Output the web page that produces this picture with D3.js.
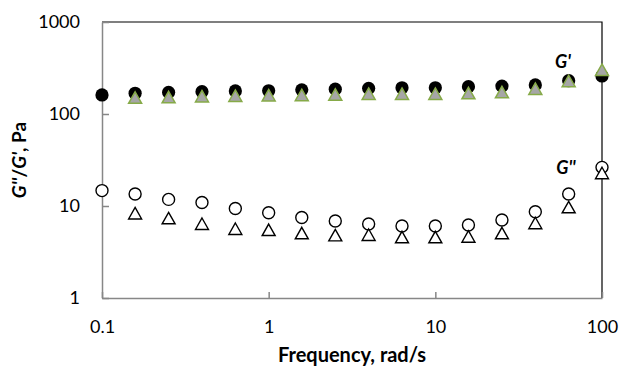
<!DOCTYPE html>
<html>
<head>
<meta charset="utf-8">
<script src="https://cdn.jsdelivr.net/npm/d3@7"></script>
<style>
  body { margin: 0; background: #fff; }
  text { font-family: Lato, "Open Sans", sans-serif; }
</style>
</head>
<body>
<div id="displaybox"></div>
<script>
// frequency sweep, rad/s (5 points per decade)
let freq = [0.1, 0.158, 0.251, 0.398, 0.631, 1, 1.58, 2.51, 3.98, 6.31, 10, 15.8, 25.1, 39.8, 63.1, 100];

// storage modulus G' (Pa)
let gPrimeA = [161, 168, 172, 175, 178, 179, 183, 186, 190, 193, 193, 198, 201, 207, 230, 259];
let gPrimeB = [null, 150, 152, 155, 157, 159, 160, 162, 165, 165, 165, 168, 172, 187, 227, 301];

// loss modulus G'' (Pa)
let gDoubleA = [14.7, 13.5, 11.8, 10.9, 9.4, 8.46, 7.5, 6.87, 6.37, 6.06, 6.06, 6.22, 7.04, 8.67, 13.5, 26.3];
let gDoubleB = [null, 8.3, 7.35, 6.37, 5.62, 5.48, 5.05, 4.8, 4.84, 4.57, 4.57, 4.64, 5.05, 6.49, 9.68, 22.7];

let xTicks = [0.1, 1, 10, 100];
let yTicks = [1, 10, 100, 1000];

let width = 620, height = 369;
let margin = {top: 22, right: 18, bottom: 71, left: 102};

let svg = d3.select("#displaybox")
    .append("svg")
        .attr("width", width)
        .attr("height", height);

let x = d3.scaleLog()
    .domain([0.1, 100])
    .range([margin.left, width - margin.right]);
let y = d3.scaleLog()
    .domain([1, 1000])
    .range([height - margin.bottom, margin.top]);

// minor ticks 2..9 in each decade
function minors(lo, hi) {
    let out = [];
    for (let d = lo; d < hi; d *= 10)
        for (let k = 2; k <= 9; k++) out.push(d * k);
    return out;
}

// black frame on top and right
svg.append("path")
    .attr("d", `M${x(0.1)},${y(1000)}H${x(100)}V${y(1)}`)
    .attr("fill", "none")
    .attr("stroke", "#000")
    .attr("stroke-width", 1.2);

let axisColor = "#878787";

// x axis
let gx = svg.append("g")
    .attr("transform", `translate(0, ${y(1)})`);
gx.call(d3.axisBottom(x).tickValues(minors(0.1, 100)).tickSizeInner(-5).tickSizeOuter(0).tickFormat(""));
gx.call(d3.axisBottom(x).tickValues(xTicks).tickSizeInner(-6).tickSizeOuter(0).tickPadding(22)
        .tickFormat(d => d3.format("~g")(d)));
gx.selectAll("path.domain, line").attr("stroke", axisColor).attr("stroke-width", 1.5);
gx.selectAll("text").attr("font-size", 18).attr("fill", "#000");

// y axis
let gy = svg.append("g")
    .attr("transform", `translate(${x(0.1)}, 0)`);
gy.call(d3.axisLeft(y).tickValues(minors(1, 1000)).tickSizeInner(-5).tickSizeOuter(0).tickFormat(""));
gy.call(d3.axisLeft(y).tickValues(yTicks).tickSizeInner(-7).tickSizeOuter(0).tickPadding(22)
        .tickFormat(d => d3.format("~g")(d)));
gy.selectAll("path.domain, line").attr("stroke", axisColor).attr("stroke-width", 1.5);
gy.selectAll("text").attr("font-size", 18).attr("fill", "#000");

// axis titles
svg.append("text")
    .attr("x", (x(0.1) + x(100)) / 2)
    .attr("y", 362)
    .attr("text-anchor", "middle")
    .attr("font-size", 20)
    .attr("font-weight", "bold")
    .text("Frequency, rad/s");

let yt = svg.append("text")
    .attr("transform", `translate(26, ${(y(1) + y(1000)) / 2}) rotate(-90)`)
    .attr("text-anchor", "middle")
    .attr("font-size", 19)
    .attr("font-weight", "bold");
yt.append("tspan").attr("font-style", "italic").text("G''");
yt.append("tspan").text("/");
yt.append("tspan").attr("font-style", "italic").text("G'");
yt.append("tspan").text(", Pa");

// markers
let tri = "M0,-6L6.5,5.5L-6.5,5.5Z";

function pts(vals) {
    return freq.map((f, i) => ({f: f, v: vals[i]})).filter(d => d.v != null);
}

svg.append("g").selectAll("circle")
    .data(pts(gDoubleA))
    .enter().append("circle")
        .attr("cx", d => x(d.f))
        .attr("cy", d => y(d.v))
        .attr("r", 6)
        .attr("fill", "#fff")
        .attr("stroke", "#000")
        .attr("stroke-width", 1.4);

svg.append("g").selectAll("path")
    .data(pts(gDoubleB))
    .enter().append("path")
        .attr("d", tri)
        .attr("transform", d => `translate(${x(d.f)},${y(d.v)})`)
        .attr("fill", "#fff")
        .attr("stroke", "#000")
        .attr("stroke-width", 1.4);

svg.append("g").selectAll("circle")
    .data(pts(gPrimeA))
    .enter().append("circle")
        .attr("cx", d => x(d.f))
        .attr("cy", d => y(d.v))
        .attr("r", 6.6)
        .attr("fill", "#000");

svg.append("g").selectAll("path")
    .data(pts(gPrimeB))
    .enter().append("path")
        .attr("d", tri)
        .attr("transform", d => `translate(${x(d.f)},${y(d.v)})`)
        .attr("fill", "#a6a6a6")
        .attr("stroke", "#86aa48")
        .attr("stroke-width", 1.5);

// series labels
svg.append("text")
    .attr("x", 563).attr("y", 68)
    .attr("text-anchor", "middle")
    .attr("font-size", 18).attr("font-weight", "bold").attr("font-style", "italic")
    .text("G'");
svg.append("text")
    .attr("x", 566).attr("y", 174)
    .attr("text-anchor", "middle")
    .attr("font-size", 18).attr("font-weight", "bold").attr("font-style", "italic")
    .text("G''");
</script>
</body>
</html>
